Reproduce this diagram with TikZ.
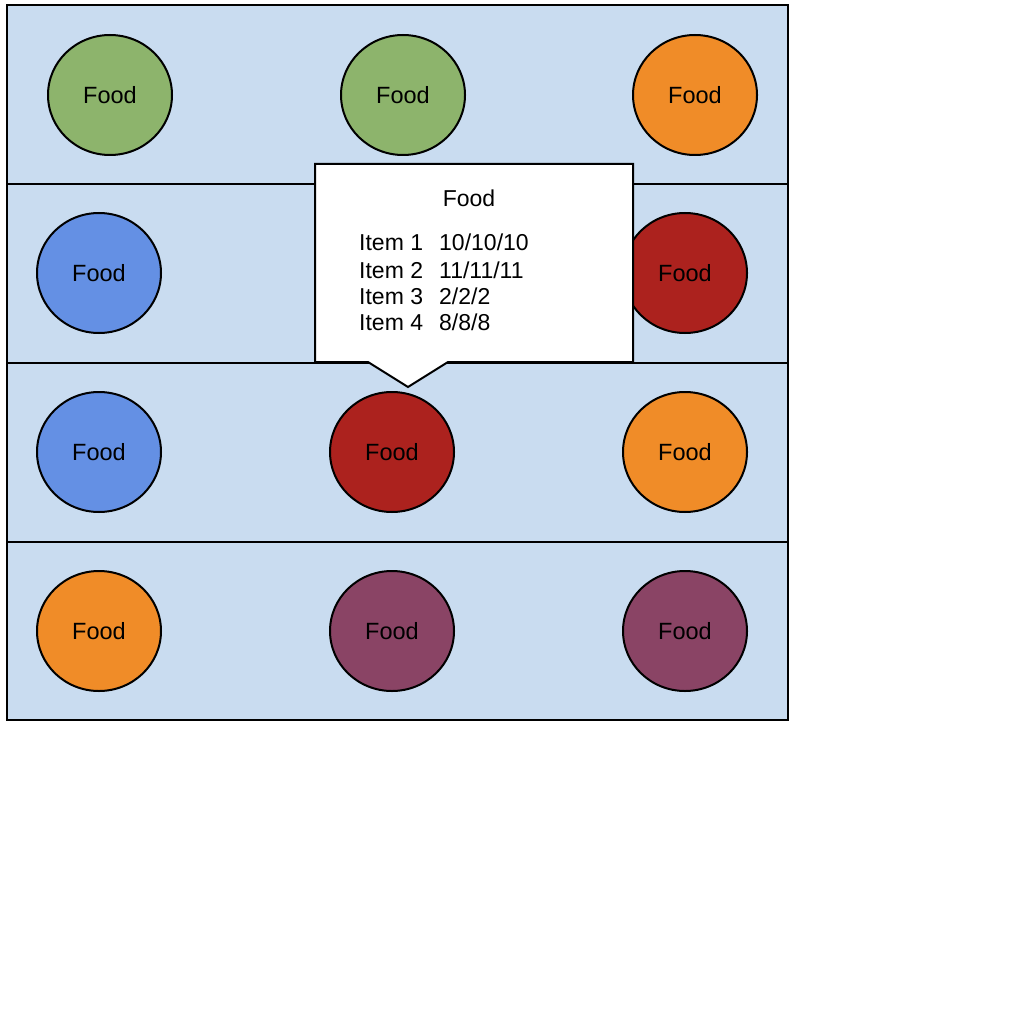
\documentclass[tikz,border=0pt]{standalone}
\usepackage{fontspec}
\setmainfont{Liberation Sans}
\usetikzlibrary{shapes.geometric}
\definecolor{bgblue}{HTML}{C9DCF0}
\definecolor{fgreen}{HTML}{8DB46C}
\definecolor{forange}{HTML}{F08C28}
\definecolor{fblue}{HTML}{6490E4}
\definecolor{fred}{HTML}{AC221E}
\definecolor{fpurple}{HTML}{8A4465}
\tikzset{
  food/.style={ellipse, draw=black, line width=2pt, minimum width=124pt, minimum height=120pt, inner sep=0pt, font=\fontsize{23.5}{27}\selectfont},
  rowbox/.style={fill=bgblue, draw=black, line width=2pt},
  lbl/.style={font=\fontsize{23}{27}\selectfont, inner sep=0pt, anchor=base west}
}
\begin{document}
\begin{tikzpicture}[x=1pt,y=-1pt]
\useasboundingbox[fill=white] (0,0) rectangle (1024,1024);
% rows
\draw[rowbox] (7,5) rectangle (788,184);
\draw[rowbox] (7,184) rectangle (788,363);
\draw[rowbox] (7,363) rectangle (788,542);
\draw[rowbox] (7,542) rectangle (788,720);
% circles
\node[food, fill=fgreen] (a1) at (110,95) {Food};
\node[food, fill=fgreen] (a2) at (403,95) {Food};
\node[food, fill=forange] (a3) at (695,95) {Food};
\node[food, fill=fblue] (b1) at (99,273) {Food};
\node[food, fill=fred] (b3) at (685,273) {Food};
\node[food, fill=fblue] (c1) at (99,452) {Food};
\node[food, fill=fred] (c2) at (392,452) {Food};
\node[food, fill=forange] (c3) at (685,452) {Food};
\node[food, fill=forange] (d1) at (99,631) {Food};
\node[food, fill=fpurple] (d2) at (392,631) {Food};
\node[food, fill=fpurple] (d3) at (685,631) {Food};
% callout
\draw[fill=white, line width=2pt, line join=miter] (315,164) -- (633,164) -- (633,362) -- (448,362) -- (408,387) -- (368,362) -- (315,362) -- cycle;
\node[font=\fontsize{23}{27}\selectfont, inner sep=0pt, anchor=base] (title) at (469,207) {Food};
\node[lbl] (i1) at (359,251) {Item 1};
\node[lbl] (v1) at (439,251) {10/10/10};
\node[lbl] (i2) at (359,278) {Item 2};
\node[lbl] (v2) at (439,278) {11/11/11};
\node[lbl] (i3) at (359,304) {Item 3};
\node[lbl] (v3) at (439,304) {2/2/2};
\node[lbl] (i4) at (359,330) {Item 4};
\node[lbl] (v4) at (439,330) {8/8/8};
\end{tikzpicture}
\end{document}
